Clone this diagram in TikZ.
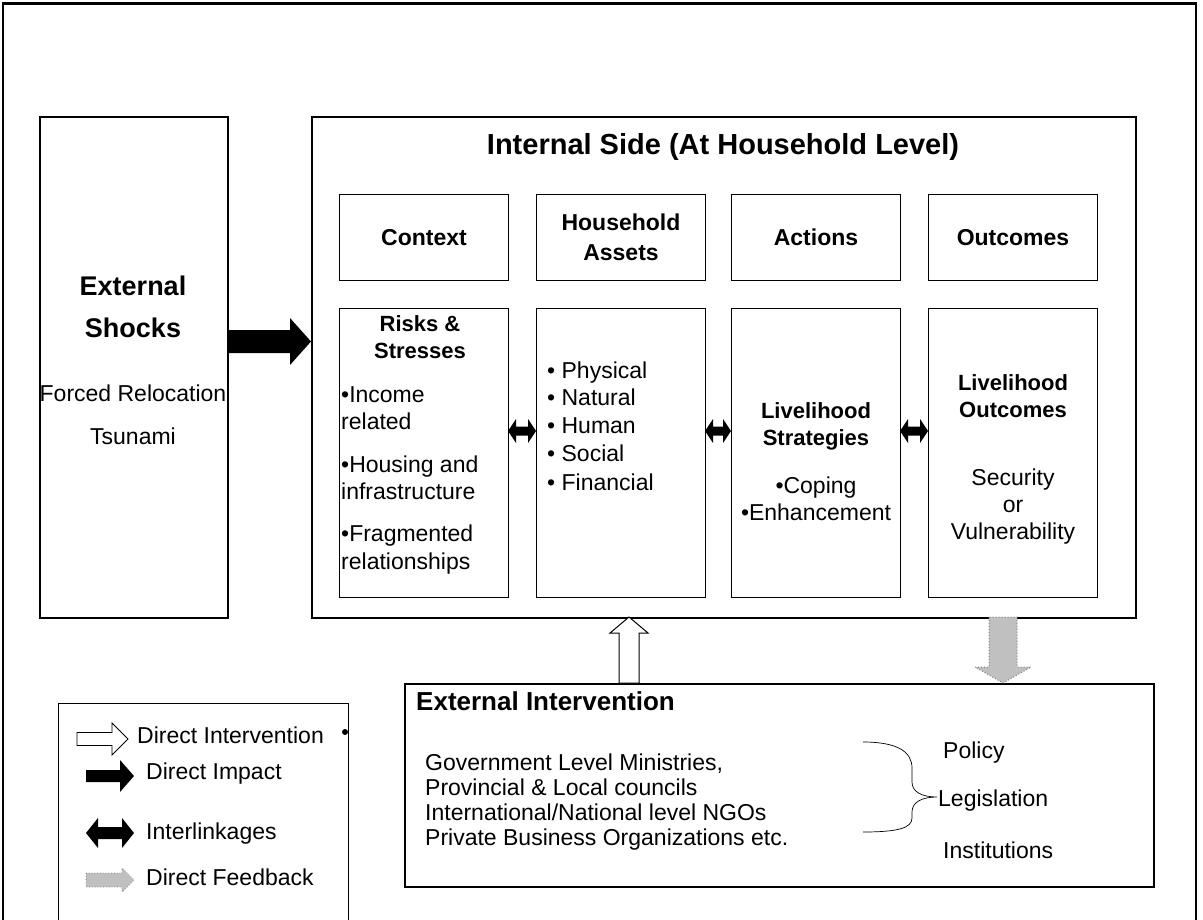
\documentclass[tikz,border=0pt]{standalone}
\usepackage{fontspec}
\setmainfont{Liberation Sans}
\usepackage{tikz}
\definecolor{feedgray}{RGB}{192,192,192}

% right-pointing block arrow: style, x tail, x tip, y, shaft half, head half, head length
\newcommand{\rarrow}[7]{\path[#1] (#2,#4-#5) -- (#3-#7,#4-#5) -- (#3-#7,#4-#6) -- (#3,#4)
  -- (#3-#7,#4+#6) -- (#3-#7,#4+#5) -- (#2,#4+#5) -- cycle;}
% vertical block arrow: style, y tail, y tip, x, shaft half, head half, signed head length
\newcommand{\varrow}[7]{\path[#1] (#4-#5,#2) -- (#4-#5,#3-#7) -- (#4-#6,#3-#7) -- (#4,#3)
  -- (#4+#6,#3-#7) -- (#4+#5,#3-#7) -- (#4+#5,#2) -- cycle;}
% double block arrow: style, x left, x right, y, shaft half, head half, head length
\newcommand{\darrow}[7]{\path[#1] (#2,#4) -- (#2+#7,#4-#6) -- (#2+#7,#4-#5) -- (#3-#7,#4-#5)
  -- (#3-#7,#4-#6) -- (#3,#4) -- (#3-#7,#4+#6) -- (#3-#7,#4+#5) -- (#2+#7,#4+#5)
  -- (#2+#7,#4+#6) -- cycle;}

\begin{document}
\begin{tikzpicture}[x=1pt, y=-1pt,
    box/.style={draw, line width=2pt, anchor=north west, inner sep=0pt},
    cell/.style={draw, line width=1pt, anchor=north west, inner sep=0pt, minimum width=169pt, align=center},
    body/.style={inner sep=0pt, font=\fontsize{23}{26}\selectfont},
    inbold/.style={inner sep=0pt, font=\bfseries\fontsize{22}{27}\selectfont},
    headbold/.style={font=\bfseries\fontsize{23}{30}\selectfont},
    bigbold/.style={inner sep=0pt, font=\bfseries\fontsize{27}{32}\selectfont}]
\clip (0,0) rectangle (1203,919);
\draw[line width=1.5pt] (3,935) -- (3,3) -- (1196,3) -- (1196,935);
\draw[line width=3pt] (2,3) -- (1197,3);

\node[box, minimum width=188pt, minimum height=501pt] (shocks) at (39,116) {};
\node[box, minimum width=824pt, minimum height=501pt] (inner) at (311,116) {};
\node[box, minimum width=749pt, minimum height=203pt] (interv) at (404,683) {};
\node[draw, line width=1pt, anchor=north west, minimum width=290pt, minimum height=240pt] (legend) at (58,703) {};

\node[cell, headbold, minimum height=86pt] (context) at (339,194) {Context};
\node[cell, headbold, minimum height=86pt] (assets) at (536,194) {Household\\Assets};
\node[cell, headbold, minimum height=86pt] (actions) at (731,194) {Actions};
\node[cell, headbold, minimum height=86pt] (outcomes) at (928,194) {Outcomes};
\node[cell, minimum height=289pt] (risks) at (339,308) {};
\node[cell, minimum height=289pt] (capitals) at (536,308) {};
\node[cell, minimum height=289pt] (strategies) at (731,308) {};
\node[cell, minimum height=289pt] (results) at (928,308) {};

\node[bigbold, anchor=base] (shock1) at (133,295) {External};
\node[bigbold, anchor=base] (shock2) at (133,337) {Shocks};
\node[body, anchor=base] (relocation) at (133,401) {Forced Relocation};
\node[body, anchor=base] (tsunami) at (133,444) {Tsunami};
\node[bigbold, anchor=base, font=\bfseries\fontsize{29}{34}\selectfont] (innertitle) at (723,154) {Internal Side (At Household Level)};

\node[inbold, anchor=base] (risks1) at (420,331) {Risks \&};
\node[inbold, anchor=base] (risks2) at (420,358) {Stresses};
\foreach \txt/\yy in {•Income/402, related/429, {•Housing and}/472, infrastructure/499,
    •Fragmented/541, relationships/569}
  \node[body, anchor=base west] (risk\yy) at (341,\yy) {\txt};
\foreach \txt/\yy in {Physical/378, Natural/405, Human/433, Social/461, Financial/490}
  \node[body, anchor=base west] (asset\yy) at (547,\yy) {• \txt};

\node[inbold, anchor=base] (strat1) at (816,418) {Livelihood};
\node[inbold, anchor=base] (strat2) at (816,445) {Strategies};
\node[body, anchor=base] (coping) at (816,493) {•Coping};
\node[body, anchor=base] (enhance) at (816,520) {•Enhancement};

\node[inbold, anchor=base] (out1) at (1013,390) {Livelihood};
\node[inbold, anchor=base] (out2) at (1013,417) {Outcomes};
\node[body, anchor=base] (security) at (1013,485) {Security};
\node[body, anchor=base] (or) at (1013,512) {or};
\node[body, anchor=base] (vulner) at (1013,539) {Vulnerability};

\node[bigbold, anchor=base west, font=\bfseries\fontsize{26}{30}\selectfont] (intervtitle) at (416,710) {External Intervention};
\foreach \txt/\yy in {{Government Level Ministries,}/770, {Provincial \& Local councils}/795,
    {International/National level NGOs}/820, {Private Business Organizations etc.}/845}
  \node[body, anchor=base west] (actor\yy) at (425,\yy) {\txt};
\node[body, anchor=base west] (policy) at (943,758) {Policy};
\node[body, anchor=base west] (legislation) at (938,806) {Legislation};
\node[body, anchor=base west] (institutions) at (943,858) {Institutions};
\draw[line width=0.7pt] (863,742) .. controls (898,742) and (912,752) .. (912,768)
  -- (912,782) .. controls (912,792) and (922,797) .. (937,797)
  .. controls (922,797) and (912,802) .. (912,812) -- (912,818)
  .. controls (912,828) and (898,832) .. (863,832);

\rarrow{fill=black}{228}{311}{341.5}{11.5}{23.5}{21}
\darrow{fill=black}{508}{536}{431}{4.5}{12}{8}
\darrow{fill=black}{705}{731}{431}{4.5}{12}{8}
\darrow{fill=black}{900}{928}{431}{4.5}{12}{8}
\varrow{draw, fill=white, line width=1pt}{683}{617}{629}{10}{19}{-16}
\varrow{draw=gray, dotted, fill=feedgray, line width=1pt}{617}{683}{1003}{14}{28}{16}

\rarrow{draw, fill=white, line width=0.8pt}{77}{128}{739}{6.5}{16}{16}
\rarrow{fill=black}{86}{134}{776}{6}{16}{14}
\darrow{fill=black}{86}{134}{833}{6}{15}{12}
\rarrow{draw=gray, dotted, fill=feedgray, line width=0.8pt}{86}{134}{880}{7}{12}{12}
\node[body, anchor=base west] (lgint) at (137,743) {Direct Intervention};
\node[body, anchor=base west] (lgimp) at (146,779) {Direct Impact};
\node[body, anchor=base west] (lglink) at (146,839) {Interlinkages};
\node[body, anchor=base west] (lgfeed) at (146,885) {Direct Feedback};
\fill (345,732) circle (3);
\end{tikzpicture}
\end{document}
